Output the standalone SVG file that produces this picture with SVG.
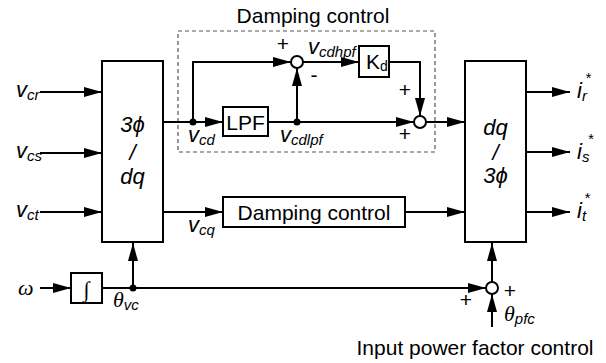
<svg xmlns="http://www.w3.org/2000/svg" width="606" height="363" viewBox="0 0 606 363">
<defs>
<marker id="arr" markerUnits="userSpaceOnUse" markerWidth="18" markerHeight="10" refX="18" refY="5" orient="auto">
<path d="M0,0 L18,5 L0,10 z" fill="#000"/>
</marker>
<style>
.ln{fill:none;stroke:#000;stroke-width:2}
.bx{fill:#fff;stroke:#000;stroke-width:2}
.t{font-family:"Liberation Sans",Arial,sans-serif;font-size:21px;fill:#000}
.it{font-family:"Liberation Sans",Arial,sans-serif;font-style:italic;font-size:22px;fill:#000}
.sub{font-size:15px}
.gr{font-family:"Liberation Serif","Times New Roman",serif;font-style:italic;font-size:22px;fill:#000}
.dot{fill:#000}
.sm{fill:#fff;stroke:#000;stroke-width:2}
</style>
</defs>
<rect width="606" height="363" fill="#fff"/>

<g id="damping-group">
<rect x="178" y="31" width="257" height="121" fill="none" stroke="#555" stroke-width="1.2" stroke-dasharray="4,3"/>
<text class="t" x="313" y="23" text-anchor="middle">Damping control</text>
</g>

<g id="connectors">
<path class="ln" d="M40,92 H102" marker-end="url(#arr)"/>
<path class="ln" d="M40,153 H102" marker-end="url(#arr)"/>
<path class="ln" d="M40,212 H102" marker-end="url(#arr)"/>
<path class="ln" d="M163,122 H223" marker-end="url(#arr)"/>
<path class="ln" d="M193,122 V62 H291" marker-end="url(#arr)"/>
<path class="ln" d="M268,122 H414" marker-end="url(#arr)"/>
<path class="ln" d="M297,122 V68" marker-end="url(#arr)"/>
<path class="ln" d="M303,62 H359" marker-end="url(#arr)"/>
<path class="ln" d="M389,62 H420 V116" marker-end="url(#arr)"/>
<path class="ln" d="M426,122 H465" marker-end="url(#arr)"/>
<path class="ln" d="M163,212 H223" marker-end="url(#arr)"/>
<path class="ln" d="M405,212 H465" marker-end="url(#arr)"/>
<path class="ln" d="M526,92 H570" marker-end="url(#arr)"/>
<path class="ln" d="M526,152 H570" marker-end="url(#arr)"/>
<path class="ln" d="M526,212 H570" marker-end="url(#arr)"/>
<path class="ln" d="M40,288 H71" marker-end="url(#arr)"/>
<path class="ln" d="M102,288 H486" marker-end="url(#arr)"/>
<path class="ln" d="M133,288 V243" marker-end="url(#arr)"/>
<path class="ln" d="M492,282 V243" marker-end="url(#arr)"/>
<path class="ln" d="M492,327 V294" marker-end="url(#arr)"/>
<circle class="dot" cx="193" cy="122" r="3.5"/>
<circle class="dot" cx="297" cy="122" r="3.5"/>
<circle class="dot" cx="133" cy="288" r="3.5"/>
</g>

<g id="abc-dq">
<rect class="bx" x="102" y="61" width="61" height="181"/>
<text class="it" x="132.5" y="132" text-anchor="middle">3ϕ</text>
<text class="it" x="132.5" y="160" text-anchor="middle">/</text>
<text class="it" x="132.5" y="184" text-anchor="middle">dq</text>
</g>

<g id="dq-abc">
<rect class="bx" x="465" y="61" width="61" height="181"/>
<text class="it" x="495.5" y="135" text-anchor="middle">dq</text>
<text class="it" x="495.5" y="160" text-anchor="middle">/</text>
<text class="it" x="495.5" y="183" text-anchor="middle">3ϕ</text>
</g>

<g id="lpf">
<rect class="bx" x="223" y="107" width="45" height="29"/>
<text class="t" x="245.5" y="129.5" text-anchor="middle">LPF</text>
</g>

<g id="kd">
<rect class="bx" x="359" y="46" width="30" height="31"/>
<text class="t" x="366" y="69">K<tspan font-size="14" dy="2">d</tspan></text>
</g>

<g id="sum1">
<circle class="sm" cx="297" cy="62" r="6"/>
<text class="t" x="283" y="51" text-anchor="middle" font-size="18">+</text>
<text class="t" x="314" y="82" text-anchor="middle" font-size="18">-</text>
</g>

<g id="sum2">
<circle class="sm" cx="420" cy="122" r="6"/>
<text class="t" x="405" y="97" text-anchor="middle" font-size="18">+</text>
<text class="t" x="405" y="141" text-anchor="middle" font-size="18">+</text>
</g>

<g id="damping-q">
<rect class="bx" x="223" y="197" width="182" height="30"/>
<text class="t" x="314" y="219.5" text-anchor="middle">Damping control</text>
</g>

<g id="integrator">
<rect class="bx" x="71" y="273" width="31" height="30"/>
<text class="gr" x="86.5" y="297" text-anchor="middle" font-size="26">∫</text>
</g>

<g id="sum3">
<circle class="sm" cx="492" cy="288" r="6"/>
<text class="t" x="466" y="307" text-anchor="middle" font-size="18">+</text>
<text class="t" x="510" y="298" text-anchor="middle" font-size="16">+</text>
</g>

<g id="labels">
<text class="it" x="16" y="97">v<tspan class="sub" dy="3">cr</tspan></text>
<text class="it" x="16" y="158">v<tspan class="sub" dy="3">cs</tspan></text>
<text class="it" x="16" y="217">v<tspan class="sub" dy="3">ct</tspan></text>
<text class="it" x="188" y="142">v<tspan class="sub" dy="3">cd</tspan></text>
<text class="it" x="280" y="142">v<tspan class="sub" dy="3">cdlpf</tspan></text>
<text class="it" x="308" y="54">v<tspan class="sub" dy="3">cdhpf</tspan></text>
<text class="it" x="188" y="232">v<tspan class="sub" dy="3">cq</tspan></text>
<text class="it" x="577" y="98">i<tspan class="sub" dy="3">r</tspan><tspan class="sub" dx="-2" dy="-18">*</tspan></text>
<text class="it" x="577" y="159">i<tspan class="sub" dy="3">s</tspan><tspan class="sub" dx="-2" dy="-18">*</tspan></text>
<text class="it" x="577" y="218">i<tspan class="sub" dy="3">t</tspan><tspan class="sub" dx="-2" dy="-18">*</tspan></text>
<text class="gr" x="18" y="295">ω</text>
<text class="gr" x="113" y="307">θ<tspan class="it sub" dy="3">vc</tspan></text>
<text class="gr" x="504" y="321">θ<tspan class="it sub" dy="3">pfc</tspan></text>
<text class="t" x="475" y="355" text-anchor="middle" font-size="21.5">Input power factor control</text>
</g>
</svg>
